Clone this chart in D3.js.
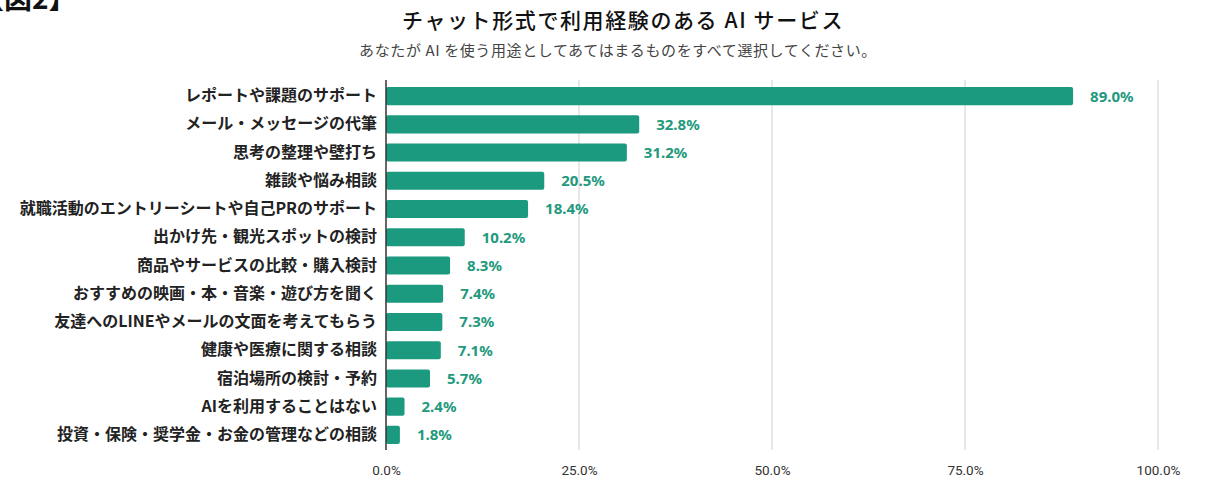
<!DOCTYPE html>
<html><head><meta charset="utf-8">
<script src="https://cdn.jsdelivr.net/npm/d3@7"></script>
<style>
body{margin:0;background:#fff;}
svg{display:block;font-family:"Noto Sans CJK JP","Noto Sans",sans-serif;}
</style></head>
<body><svg id="c" width="1210" height="480"></svg>
<script>
const categories = ["レポートや課題のサポート","メール・メッセージの代筆","思考の整理や壁打ち","雑談や悩み相談","就職活動のエントリーシートや自己PRのサポート","出かけ先・観光スポットの検討","商品やサービスの比較・購入検討","おすすめの映画・本・音楽・遊び方を聞く","友達へのLINEやメールの文面を考えてもらう","健康や医療に関する相談","宿泊場所の検討・予約","AIを利用することはない","投資・保険・奨学金・お金の管理などの相談"];
const values = [89.0,32.8,31.2,20.5,18.4,10.2,8.3,7.4,7.3,7.1,5.7,2.4,1.8];
const tickValues = [0,25,50,75,100];
const title = "チャット形式で利用経験のある AI サービス";
const subtitle = "あなたが AI を使う用途としてあてはまるものをすべて選択してください。";

const svg = d3.select("#c");
const x = d3.scaleLinear().domain([0,100]).range([386,1158]);
const y = d3.scaleBand().domain(categories).range([82,449]).paddingInner(0.36).paddingOuter(0.18);
const teal = "#1b9a7f";

svg.append("text").attr("x",-24).attr("y",9).attr("font-size",28).attr("font-weight",700).attr("fill","#111").text("【図2】");
svg.append("text").attr("x",623).attr("y",28).attr("text-anchor","middle").attr("font-size",21).attr("font-weight",500).attr("letter-spacing",1.6).attr("fill","#111").text(title);
svg.append("text").attr("x",618).attr("y",56).attr("text-anchor","middle").attr("font-size",15).attr("font-weight",400).attr("letter-spacing",0.6).attr("fill","#444").text(subtitle);

// gridlines
svg.append("g").selectAll("line").data(tickValues.slice(1)).join("line")
  .attr("x1",d=>x(d)).attr("x2",d=>x(d)).attr("y1",80).attr("y2",450)
  .attr("stroke","#d0d0d0").attr("stroke-width",1);

// x axis labels
const xAxis = d3.axisBottom(x).tickValues(tickValues).tickFormat(d=>d.toFixed(1)+"%").tickSize(0).tickPadding(0);
const gx = svg.append("g").attr("transform","translate(0,465)").call(xAxis);
gx.select(".domain").remove();
gx.selectAll("text").attr("font-size",13.5).attr("fill","#333").attr("font-family","'Liberation Sans Narrow',Roboto,'Noto Sans',sans-serif");

// bars
svg.append("g").selectAll("rect").data(values).join("rect")
  .attr("x",x(0)).attr("y",(d,i)=>y(categories[i])).attr("width",d=>x(d)-x(0)).attr("height",y.bandwidth())
  .attr("rx",2).attr("fill",teal);

// value labels
svg.append("g").selectAll("text").data(values).join("text")
  .attr("x",d=>x(d)+17).attr("y",(d,i)=>y(categories[i])+y.bandwidth()/2).attr("dy","0.36em")
  .attr("font-size",15).attr("font-weight",700).attr("fill","#22997c")
  .attr("font-family","'Noto Sans',sans-serif")
  .text(d=>d.toFixed(1)+"%");

// y axis
const yAxis = d3.axisLeft(y).tickSize(0).tickPadding(9);
const gy = svg.append("g").attr("transform",`translate(${x(0)},0)`).call(yAxis);
gy.select(".domain").attr("d","M0,80V450").attr("stroke","#333").attr("stroke-width",1.5);
gy.selectAll("text").attr("font-size",16).attr("font-weight",700).attr("fill","#222").attr("font-family","'Noto Sans CJK JP',sans-serif");
</script></body></html>
